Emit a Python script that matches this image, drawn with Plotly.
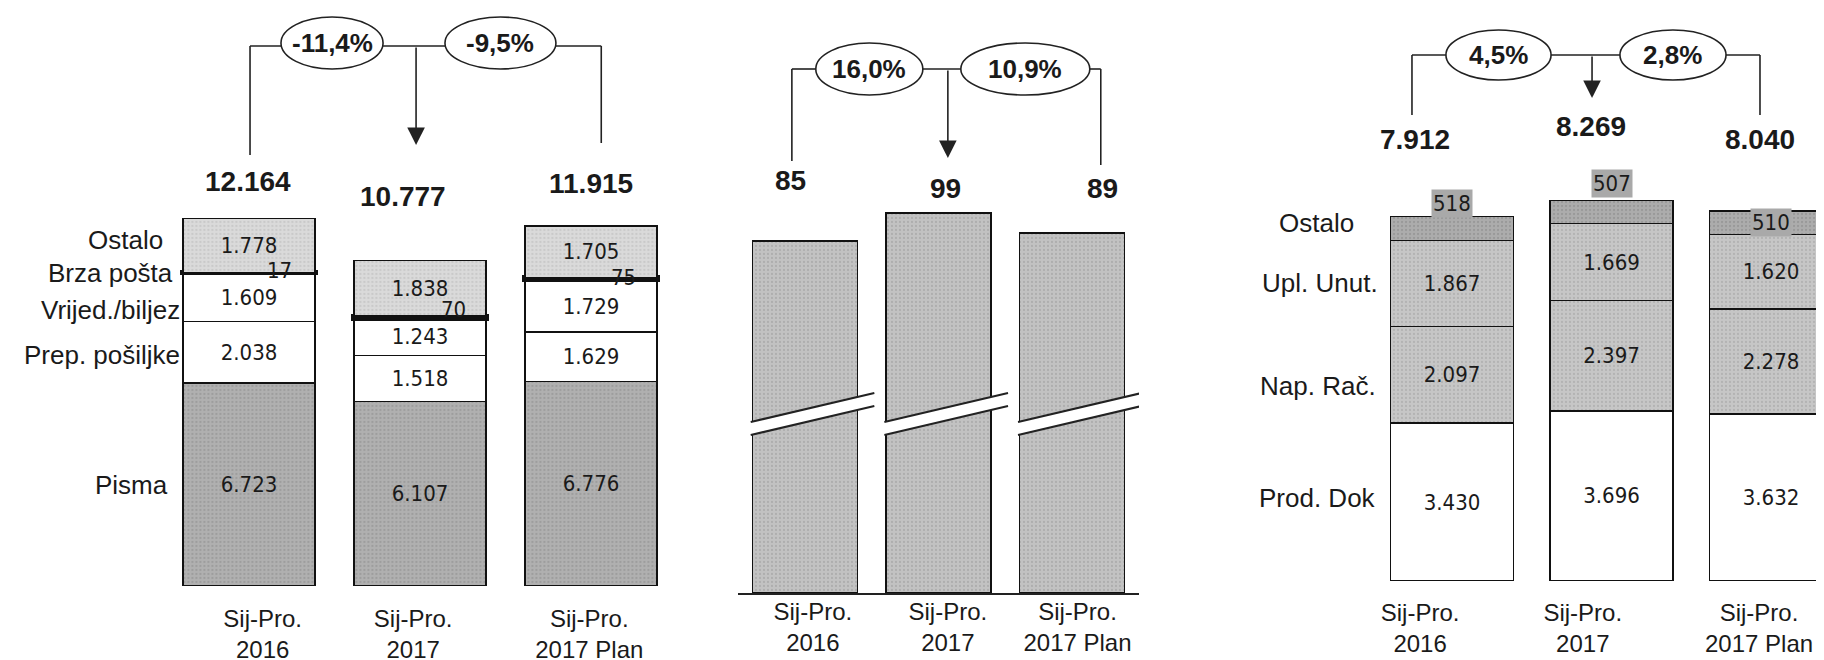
import plotly.graph_objects as go

W, H = 1824, 660

# ---------------- data ----------------
categories = ["Sij-Pro.<br>2016", "Sij-Pro.<br>2017", "Sij-Pro.<br>2017 Plan"]

# left panel
pisma = [6723, 6107, 6776]
prep_posiljke = [2038, 1518, 1629]
vrijed_biljez = [1609, 1243, 1729]
brza_posta = [17, 70, 75]
ostalo_left = [1778, 1838, 1705]
totals_left = [12164, 10777, 11915]
change_left = ["-11,4%", "-9,5%"]
left_labels = ["Ostalo", "Brza pošta", "Vrijed./biljez", "Prep. pošiljke", "Pisma"]

# middle panel
middle_values = [85, 99, 89]
change_middle = ["16,0%", "10,9%"]

# right panel
prod_dok = [3430, 3696, 3632]
nap_rac = [2097, 2397, 2278]
upl_unut = [1867, 1669, 1620]
ostalo_right = [518, 507, 510]
totals_right = [7912, 8269, 8040]
change_right = ["4,5%", "2,8%"]
right_labels = ["Ostalo", "Upl. Unut.", "Nap. Rač.", "Prod. Dok"]

# ---------------- helpers / styles ----------------
SANS = "Liberation Sans, Arial, sans-serif"
NARROW = "Liberation Sans Narrow, DejaVu Sans Condensed, Liberation Sans, sans-serif"
INK = "#1a1a1a"
XPOS = [0, 1, 2]
NUM_SIZE = 22


def fmt(v):
    return f"{v:,}".replace(",", ".")


def px(x):
    return x / W


def py(y):
    return 1 - y / H


# pixel geometry of the three panels
L_BASE, L_K = 578, 0.0302           # baseline px, px per unit
M_BASE, M_K, M_LO = 585, 2.0, -91   # broken axis
R_BASE, R_K = 573, 0.04604

fig = go.Figure()


def grey_pattern(bg, fg):
    return dict(shape=".", bgcolor=bg, fgcolor=fg, size=4, solidity=0.25)


def seg_bar(vals, color, xa, ya, width, text=True, lw=1.5, pattern=None):
    marker = dict(color=color, line=dict(color="#111", width=lw))
    if pattern:
        marker["pattern"] = pattern
    return go.Bar(
        x=XPOS, y=vals, width=width, marker=marker,
        text=[fmt(v) for v in vals] if text else None,
        textposition="inside", insidetextanchor="middle", textangle=0,
        constraintext="none",
        textfont=dict(family=NARROW, size=NUM_SIZE, color=INK),
        xaxis=xa, yaxis=ya, showlegend=False, hoverinfo="skip",
    )


# left stacked bars
fig.add_trace(seg_bar(pisma, "#a9a9a9", "x", "y", 0.772, pattern=grey_pattern("#b0b0b0", "#8a8a8a")))
fig.add_trace(seg_bar(prep_posiljke, "white", "x", "y", 0.772))
fig.add_trace(seg_bar(vrijed_biljez, "white", "x", "y", 0.772))
fig.add_trace(seg_bar(brza_posta, "#000", "x", "y", 0.772, text=False, lw=5))
fig.add_trace(seg_bar(ostalo_left, "#d6d6d6", "x", "y", 0.772, pattern=grey_pattern("#dadada", "#b5b5b5")))

# middle bars (broken axis: bars start at the axis bottom)
fig.add_trace(go.Bar(
    x=XPOS, y=[v - M_LO for v in middle_values], base=M_LO, width=0.786,
    marker=dict(color="#bdbdbd", line=dict(color="#111", width=1.5),
                pattern=grey_pattern("#c2c2c2", "#9a9a9a")),
    xaxis="x2", yaxis="y2", showlegend=False, hoverinfo="skip",
))

# right stacked bars
fig.add_trace(seg_bar(prod_dok, "white", "x3", "y3", 0.771))
fig.add_trace(seg_bar(nap_rac, "#c3c3c3", "x3", "y3", 0.771, pattern=grey_pattern("#c6c6c6", "#9f9f9f")))
fig.add_trace(seg_bar(upl_unut, "#c3c3c3", "x3", "y3", 0.771, pattern=grey_pattern("#c6c6c6", "#9f9f9f")))
fig.add_trace(seg_bar(ostalo_right, "#a8a8a8", "x3", "y3", 0.771, text=False,
                      pattern=grey_pattern("#acacac", "#858585")))

shapes = []
annotations = []


def note(**kw):
    kw.setdefault("xanchor", "center")
    kw.setdefault("yanchor", "middle")
    kw.setdefault("showarrow", False)
    annotations.append(kw)


def add_line(xref, x0, y0, x1, y1, yref="paper", w=1.6):
    shapes.append(dict(type="line", xref=xref, yref=yref, x0=x0, y0=y0, x1=x1, y1=y1,
                       line=dict(color="#222", width=w)))


def bracket(xref, xl, xr, xa, e1, e2, y_line, yl_end, yr_end, y_tip, ey, texts):
    yl = py(y_line)
    add_line(xref, xl, yl, xl, py(yl_end))
    add_line(xref, xl, yl, e1[0], yl)
    add_line(xref, e1[1], yl, e2[0], yl)
    add_line(xref, e2[1], yl, xr, yl)
    add_line(xref, xr, yl, xr, py(yr_end))
    for (a, b), t in zip([e1, e2], texts):
        shapes.append(dict(type="circle", xref=xref, yref="paper", x0=a, x1=b,
                           y0=py(ey[1]), y1=py(ey[0]), fillcolor="white",
                           line=dict(color="#222", width=1.6)))
        note(xref=xref, yref="paper", x=(a + b) / 2, y=py((ey[0] + ey[1]) / 2),
             text=f"<b>{t}</b>", font=dict(family=SANS, size=26, color=INK))
    annotations.append(dict(xref=xref, yref="paper", x=xa, y=py(y_tip), text="",
                            showarrow=True, ax=0, ay=-(y_tip - y_line), axref="pixel", ayref="pixel",
                            arrowhead=2, arrowsize=2.2, arrowwidth=1.6, arrowcolor="#222", standoff=0))


bracket("x", 0.006, 2.06, 0.977, (0.187, 0.784), (1.146, 1.795), 38, 147, 135, 137, (9, 61), change_left)
bracket("x2", -0.097, 2.214, 1.07, (0.082, 0.883), (1.167, 2.132), 61, 153, 157, 150, (35, 87), change_middle)
bracket("x3", -0.251, 1.931, 0.878, (-0.038, 0.621), (1.053, 1.718), 47, 107, 107, 90, (22, 72), change_right)

# totals
for xref, xs, ys, vals in [
    ("x", [-0.006, 0.9, 2.0], [173, 188, 175], totals_left),
    ("x2", [-0.11, 1.05, 2.23], [172, 180, 180], middle_values),
    ("x3", [-0.23, 0.87, 1.93], [132, 118, 132], totals_right),
]:
    for x, y, v in zip(xs, ys, vals):
        note(xref=xref, yref="paper", x=x, y=py(y), text=f"<b>{fmt(v)}</b>",
             font=dict(family=SANS, size=28, color=INK))

# small "Brza pošta" values beside the thick line
brza_top = [p + q + r + b for p, q, r, b in zip(pisma, prep_posiljke, vrijed_biljez, brza_posta)]
for i, (v, top, dx, dy) in enumerate(zip(brza_posta, brza_top, [30, 33, 32], [2, 7, 0])):
    note(xref="x", yref="y", x=i, y=top, xshift=dx, yshift=dy, text=fmt(v),
         font=dict(family=NARROW, size=NUM_SIZE, color=INK))

# small "Ostalo" boxes on right bars
for i, (v, t, dy) in enumerate(zip(ostalo_right, totals_right, [13, 17, -12])):
    note(xref="x3", yref="y3", x=i, y=t, yshift=dy, text=fmt(v),
         bgcolor="#a9a9a9", borderpad=1,
         font=dict(family=NARROW, size=NUM_SIZE, color=INK))

# row labels
for t, rx, y in zip(left_labels, [157, 167, 174, 174, 162], [232, 265, 302, 347, 477]):
    note(xref="paper", yref="paper", x=px(rx), y=py(y), text=t, xanchor="right",
         font=dict(family=SANS, size=26, color=INK))
for t, rx, y in zip(right_labels, [1348, 1372, 1370, 1370], [215, 275, 378, 490]):
    note(xref="paper", yref="paper", x=px(rx), y=py(y), text=t, xanchor="right",
         font=dict(family=SANS, size=26, color=INK))

# axis break marks on middle bars
B_Y, B_RISE, B_GAP = -12, 14.5, 6.5
for i in XPOS:
    x0, x1 = i - 0.405, i + 0.52
    shapes.append(dict(type="path", xref="x2", yref="y2",
                       path=f"M {x0},{B_Y} L {x1},{B_Y + B_RISE} L {x1},{B_Y + B_RISE + B_GAP} "
                            f"L {x0},{B_Y + B_GAP} Z",
                       fillcolor="white", line=dict(width=0)))
    add_line("x2", x0, B_Y, x1, B_Y + B_RISE, yref="y2", w=2)
    add_line("x2", x0, B_Y + B_GAP, x1, B_Y + B_RISE + B_GAP, yref="y2", w=2)

axis_common = dict(ticktext=categories, showgrid=False, zeroline=False, ticks="",
                   tickfont=dict(family=SANS, size=24, color=INK), fixedrange=True)
yaxis_common = dict(visible=False, showgrid=False, zeroline=False, fixedrange=True)

fig.update_layout(
    width=W, height=H, margin=dict(l=0, r=0, t=0, b=0),
    paper_bgcolor="white", plot_bgcolor="rgba(0,0,0,0)",
    barmode="stack", separators=",.", showlegend=False,
    xaxis=dict(domain=[px(241 - 0.6 * 171), px(583 + 0.6 * 171)], range=[-0.6, 2.6],
               tickvals=[0.08, 0.96, 1.99],
               anchor="y", showline=False, ticklabelstandoff=16, **axis_common),
    yaxis=dict(domain=[py(L_BASE), 1], range=[0, L_BASE / L_K], anchor="x", **yaxis_common),
    xaxis2=dict(domain=[px(730), px(1131)], range=[-0.5, 2.5], tickvals=[0.06, 1.07, 2.04],
                anchor="y2", showline=True, linecolor="#222", linewidth=2, ticklabelstandoff=-4,
                **axis_common),
    yaxis2=dict(domain=[py(M_BASE), 1], range=[M_LO, M_LO + M_BASE / M_K], anchor="x2", **yaxis_common),
    xaxis3=dict(domain=[px(1364), 1], range=[(1364 - 1444) / 159.5, (1824 - 1444) / 159.5],
                tickvals=[-0.2, 0.82, 1.925],
                anchor="y3", showline=False, ticklabelstandoff=15, **axis_common),
    yaxis3=dict(domain=[py(R_BASE), 1], range=[0, R_BASE / R_K], anchor="x3", **yaxis_common),
    shapes=shapes, annotations=annotations,
)

fig.write_html("out.html")
